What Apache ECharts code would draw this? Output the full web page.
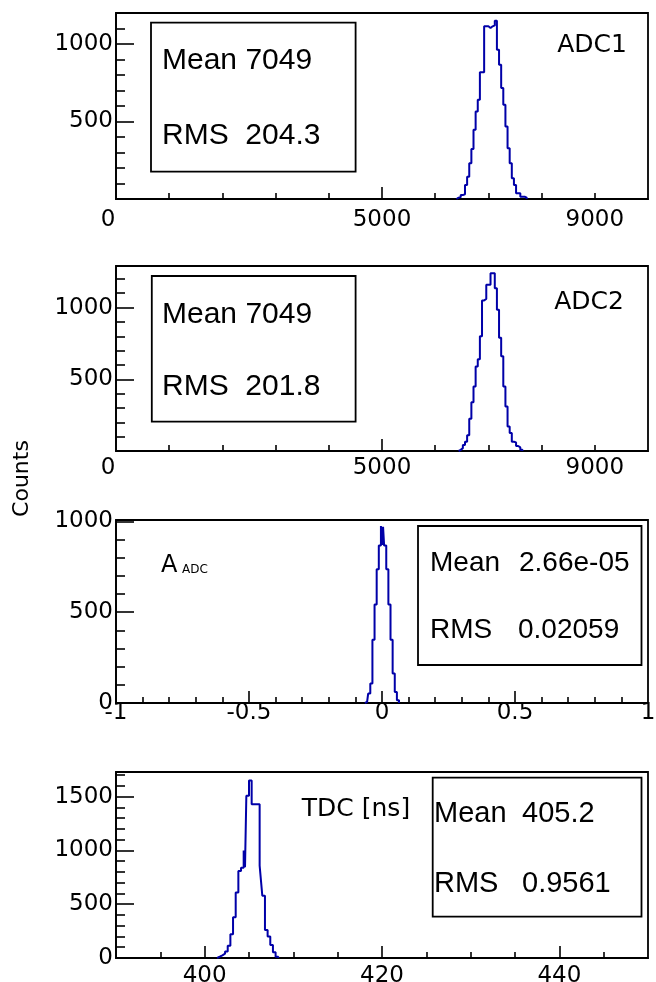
<!DOCTYPE html>
<html><head><meta charset="utf-8">
<script src="https://cdn.jsdelivr.net/npm/echarts@6/dist/echarts.min.js"></script>
<style>html,body{margin:0;padding:0;background:#fff}#c{width:656px;height:982px}</style>
</head><body><div id="c"></div>
<script>
// ---------- DATA ----------
// Panel 1: ADC1 histogram
const adc1BinStart = 6400;
const adc1BinWidth = 40;
const adc1Counts = [9,12,26,30,90,144,230,323,446,565,640,817,817,1114,1114,1103,1114,1120,1150,963,866,716,608,468,328,230,134,90,37,37,15,15,8];
// Panel 2: ADC2 histogram
const adc2BinStart = 6440;
const adc2BinWidth = 40;
const adc2Counts = [8,20,42,65,110,225,340,450,590,640,800,1050,1060,1160,1160,1240,1240,1135,985,790,660,450,310,170,125,65,60,35,25,8];
// Panel 3: A_ADC histogram
const aadcBinStart = -0.064;
const aadcBinWidth = 0.004;
const aadcCounts = [0,6,6,52,52,107,107,348,348,543,543,737,737,867,867,975,870,970,867,867,737,737,543,543,348,348,163,163,61,61,15,15];
// Panel 4: TDC histogram
const tdcBinStart = 401.4;
const tdcBinWidth = 0.15;
const tdcCounts = [12,12,25,25,40,40,60,60,115,115,220,220,380,380,610,610,810,810,840,840,1000,845,1510,1510,1650,1650,1430,1430,1430,1430,1430,1430,860,720,580,580,260,260,200,200,120,120,53,53,12,12];

// Axis ranges
const adcXRange = [0, 10000];
const adc1YRange = [0, 1200];
const adc2YRange = [0, 1290];
const aadcXRange = [-1, 1];
const aadcYRange = [0, 1008];
const tdcXRange = [390, 450];
const tdcYRange = [0, 1730];

// Tick labels / tick positions
const adcXLabels = [0, 5000, 9000];
const adcXMajorTicks = [5000];
const adcXMinorTicks = [1000,2000,3000,4000,6000,7000,8000,9000];
const adcYLabels = [500, 1000];
const adcYMajorTicks = [500, 1000];
const adcYMinorTicks = [100,200,300,400,600,700,800,900,1100,1200];
const aadcXLabels = [-1, -0.5, 0, 0.5, 1];
const aadcXMajorTicks = [-0.5, 0, 0.5];
const aadcXMinorTicks = [-0.9,-0.8,-0.7,-0.6,-0.4,-0.3,-0.2,-0.1,0.1,0.2,0.3,0.4,0.6,0.7,0.8,0.9];
const aadcYLabels = [0, 500, 1000];
const aadcYMajorTicks = [500, 1000];
const aadcYMinorTicks = [100,200,300,400,600,700,800,900];
const tdcXLabels = [400, 420, 440];
const tdcXMajorTicks = [400, 420, 440];
const tdcXMinorTicks = [395,405,410,415,425,430,435,445];
const tdcYLabels = [0, 500, 1000, 1500];
const tdcYMajorTicks = [500, 1000, 1500];
const tdcYMinorTicks = [100,200,300,400,600,700,800,900,1100,1200,1300,1400,1600,1700];

// Texts
const panelTitles = ['ADC1', 'ADC2', 'A', 'TDC [ns]'];
const statsLines = [
  ['Mean 7049', 'RMS  204.3'],
  ['Mean 7049', 'RMS  201.8'],
  ['Mean', '2.66e-05', 'RMS', '0.02059'],
  ['Mean', '405.2', 'RMS', '0.9561']
];

// ---------- BUILD ----------
function histPoints(start, width, counts) {
  const pts = [[start, 0]];
  counts.forEach((c, i) => pts.push([start + i * width, c]));
  pts.push([start + counts.length * width, 0]);
  return pts;
}

const LBL_FONT = 'DejaVu Sans';
const TXT_FONT = 'Liberation Sans';
const HIST_COLOR = '#0000a8';

const panels = [
  {grid:{left:116, top:13, width:532, height:186}, xr:adcXRange, yr:adc1YRange,
   xl:adcXLabels, xM:adcXMajorTicks, xm:adcXMinorTicks, yl:adcYLabels, yM:adcYMajorTicks, ym:adcYMinorTicks,
   xMargin:10, zeroShift:true, hist:histPoints(adc1BinStart, adc1BinWidth, adc1Counts)},
  {grid:{left:116, top:266, width:532, height:185}, xr:adcXRange, yr:adc2YRange,
   xl:adcXLabels, xM:adcXMajorTicks, xm:adcXMinorTicks, yl:adcYLabels, yM:adcYMajorTicks, ym:adcYMinorTicks,
   xMargin:6, zeroShift:true, hist:histPoints(adc2BinStart, adc2BinWidth, adc2Counts)},
  {grid:{left:116, top:520, width:532, height:183}, xr:aadcXRange, yr:aadcYRange,
   xl:aadcXLabels, xM:aadcXMajorTicks, xm:aadcXMinorTicks, yl:aadcYLabels, yM:aadcYMajorTicks, ym:aadcYMinorTicks,
   xMargin:-1, zeroShift:false, hist:histPoints(aadcBinStart, aadcBinWidth, aadcCounts)},
  {grid:{left:116, top:772, width:532, height:186}, xr:tdcXRange, yr:tdcYRange,
   xl:tdcXLabels, xM:tdcXMajorTicks, xm:tdcXMinorTicks, yl:tdcYLabels, yM:tdcYMajorTicks, ym:tdcYMinorTicks,
   xMargin:7, zeroShift:false, hist:histPoints(tdcBinStart, tdcBinWidth, tdcCounts)}
];

const grids = [], xAxes = [], yAxes = [], series = [];
const axisLineStyle = {color:'#000', width:1.6};
panels.forEach((p, i) => {
  grids.push(Object.assign({show:true, borderColor:'#000', borderWidth:1.8, backgroundColor:'transparent', containLabel:false, outerBoundsMode:'none'}, p.grid));
  xAxes.push({
    gridIndex:i, type:'value', position:'bottom', offset:0, min:p.xr[0], max:p.xr[1],
    axisLine:{show:true, onZero:false, lineStyle:axisLineStyle},
    axisTick:{show:true, inside:true, length:12, customValues:p.xM, lineStyle:axisLineStyle},
    axisLabel:{show:true, customValues:p.xl, margin:p.xMargin, color:'#000', fontFamily:LBL_FONT, fontSize:23,
      formatter: v => (p.zeroShift && v === 0) ? '{z|0}' : String(v),
      rich:{z:{padding:[0,16,0,0], fontFamily:LBL_FONT, fontSize:23, color:'#000'}}},
    splitLine:{show:false}
  });
  xAxes.push({
    gridIndex:i, type:'value', position:'bottom', offset:0, min:p.xr[0], max:p.xr[1],
    axisLine:{show:false, onZero:false},
    axisTick:{show:true, inside:true, length:6, customValues:p.xm, lineStyle:axisLineStyle},
    axisLabel:{show:false}, splitLine:{show:false}
  });
  yAxes.push({
    gridIndex:i, type:'value', position:'left', offset:0, min:p.yr[0], max:p.yr[1],
    axisLine:{show:true, onZero:false, lineStyle:axisLineStyle},
    axisTick:{show:true, inside:true, length:18, customValues:p.yM, lineStyle:axisLineStyle},
    axisLabel:{show:true, customValues:p.yl, margin:3, color:'#000', fontFamily:LBL_FONT, fontSize:23,
      formatter: v => String(v)},
    splitLine:{show:false}
  });
  yAxes.push({
    gridIndex:i, type:'value', position:'left', offset:0, min:p.yr[0], max:p.yr[1],
    axisLine:{show:false, onZero:false},
    axisTick:{show:true, inside:true, length:9, customValues:p.ym, lineStyle:axisLineStyle},
    axisLabel:{show:false}, splitLine:{show:false}
  });
  series.push({
    type:'line', xAxisIndex:2*i, yAxisIndex:2*i, data:p.hist, step:'end', symbol:'none',
    lineStyle:{color:HIST_COLOR, width:2}, silent:true, animation:false, z:3
  });
});

function txt(text, x, y, font, size, align) {
  return {type:'text', x:x, y:y, z:10, style:{text:text, font:size + 'px "' + font + '"', fill:'#000', align:align || 'left', verticalAlign:'middle'}};
}
function box(x, y, w, h) {
  return {type:'rect', z:9, shape:{x:x, y:y, width:w, height:h}, style:{fill:'none', stroke:'#000', lineWidth:1.8}};
}

const graphics = [
  // panel 1
  box(151, 22.7, 204.6, 149),
  txt(statsLines[0][0], 162, 61, TXT_FONT, 30),
  txt(statsLines[0][1], 162, 135.5, TXT_FONT, 30),
  txt(panelTitles[0], 592, 45, LBL_FONT, 25, 'center'),
  // panel 2
  box(151.8, 276, 203.8, 145.7),
  txt(statsLines[1][0], 162, 314.5, TXT_FONT, 30),
  txt(statsLines[1][1], 162, 387, TXT_FONT, 30),
  txt(panelTitles[1], 589, 302, LBL_FONT, 25, 'center'),
  // panel 3
  box(418, 526, 223.5, 139),
  txt(statsLines[2][0], 430, 563, TXT_FONT, 28),
  txt(statsLines[2][1], 519, 563, TXT_FONT, 28),
  txt(statsLines[2][2], 430, 630, TXT_FONT, 28),
  txt(statsLines[2][3], 518, 630, TXT_FONT, 28),
  txt(panelTitles[2], 161, 566, LBL_FONT, 24),
  txt('ADC', 182, 570, LBL_FONT, 12),
  // panel 4
  box(432.7, 777.7, 208.8, 139),
  txt(statsLines[3][0], 434, 814, TXT_FONT, 29),
  txt(statsLines[3][1], 522, 814, TXT_FONT, 29),
  txt(statsLines[3][2], 434, 884, TXT_FONT, 29),
  txt(statsLines[3][3], 522, 884, TXT_FONT, 29),
  txt(panelTitles[3], 356, 809, LBL_FONT, 25, 'center'),
  // y-axis title
  {type:'text', x:22, y:478.5, rotation:Math.PI/2, z:10,
   style:{text:'Counts', font:'22px "DejaVu Sans"', fill:'#000', align:'center', verticalAlign:'middle'}}
];

const chart = echarts.init(document.getElementById('c'), null, {renderer:'canvas', width:656, height:982});
chart.setOption({
  animation:false,
  backgroundColor:'#fff',
  grid:grids, xAxis:xAxes, yAxis:yAxes, series:series,
  graphic:{elements:graphics}
});
</script>
</body></html>
